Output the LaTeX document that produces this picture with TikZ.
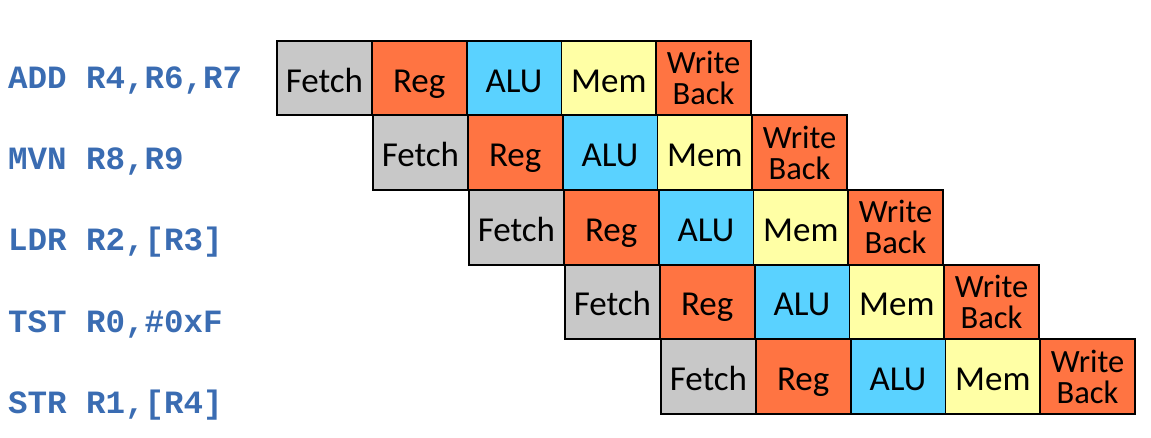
\documentclass[tikz,border=0pt]{standalone}
\usepackage{fontspec}
\setmainfont{Carlito}
\newfontfamily\codefont{Liberation Mono}
\definecolor{fetchgray}{RGB}{200,200,200}
\definecolor{regorange}{RGB}{255,116,66}
\definecolor{alublue}{RGB}{90,210,255}
\definecolor{memyellow}{RGB}{255,255,165}
\definecolor{codeblue}{RGB}{58,108,178}
\begin{document}
\begin{tikzpicture}[x=1pt,y=-1pt,
  stage/.style={draw=black, line width=1.8pt, minimum width=94.8pt,
    minimum height=74.6pt, inner sep=0pt, text=black,
    font=\fontsize{35}{31}\selectfont},
  word/.style={text height=28pt, text depth=0pt},
  fetchbox/.style={stage, word, fill=fetchgray},
  regbox/.style={stage, word, fill=regorange},
  alubox/.style={stage, word, fill=alublue},
  membox/.style={stage, word, fill=memyellow},
  wbbox/.style={stage, fill=regorange, align=center,
    font=\fontsize{32.5}{31}\selectfont},
  code/.style={anchor=base west, inner sep=0pt, text=codeblue,
    font=\codefont\bfseries\fontsize{32.5}{33}\selectfont}]
\useasboundingbox (0,0) rectangle (1151,437);

% instruction mnemonics
\foreach \r/\instr in {0/{ADD R4,R6,R7},1/{MVN R8,R9},2/{LDR R2,[R3]},
                        3/{TST R0,\#0xF},4/{STR R1,[R4]}}
  \node[code] (instr-\r) at (8, 88.5+81.2*\r) {\instr};

% pipeline stages, one row per instruction, shifted one slot each cycle
\foreach \r in {0,...,4}
  \foreach \c/\sty/\txt in {0/fetchbox/Fetch,1/regbox/Reg,2/alubox/ALU,
                            3/membox/Mem,4/wbbox/{Write\\Back}}
    \node[\sty] (stage-\r-\c) at (277+96*\r+94.8*\c+47.4, 40.7+74.65*\r+37.3) {\txt};
\end{tikzpicture}
\end{document}
